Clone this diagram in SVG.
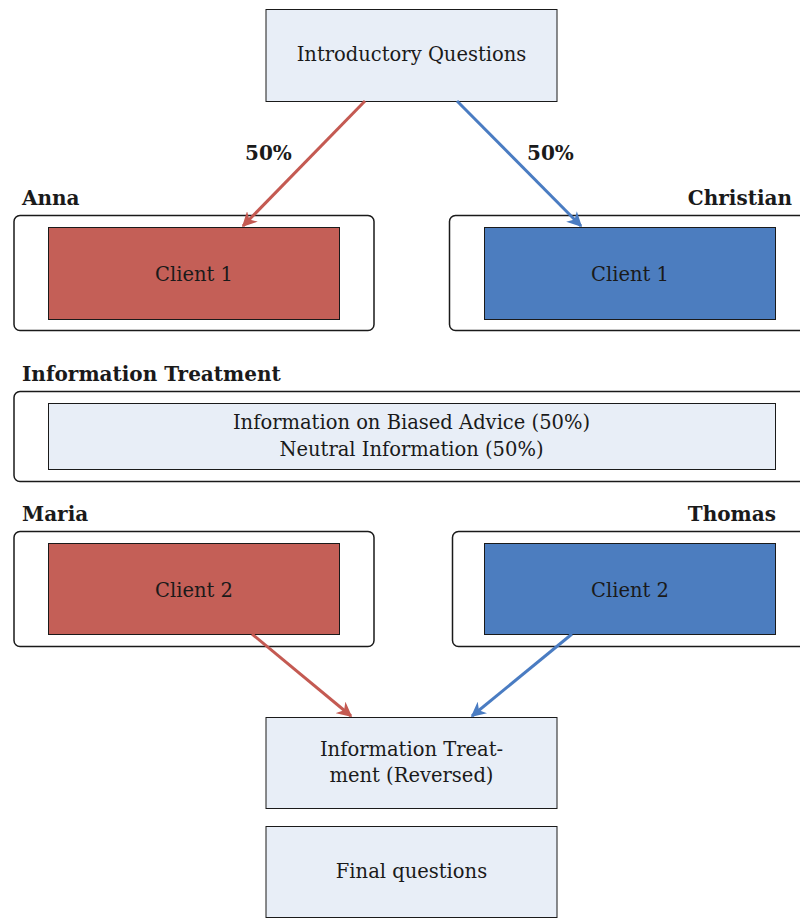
<svg xmlns="http://www.w3.org/2000/svg" width="800" height="918" viewBox="0 0 800 918" font-family="'DejaVu Serif', serif">
<style>
text{font-family:"DejaVu Serif",serif;font-size:19.5px;fill:#1a1a1a;text-anchor:middle;dominant-baseline:central}
.lbl{font-weight:bold;font-size:20px;text-anchor:start}
.lblr{font-weight:bold;font-size:20px;text-anchor:end}
.box{fill:#e8eef7;stroke:#1a1a1a;stroke-width:1}
.outer{fill:#fff;stroke:#1a1a1a;stroke-width:1.5}
.red{fill:#c45f57;stroke:#1a1a1a;stroke-width:1}
.blue{fill:#4c7dbf;stroke:#1a1a1a;stroke-width:1}
.ar{stroke:#c45a52;stroke-width:3;fill:none}
.ab{stroke:#4a7cc2;stroke-width:3;fill:none}
</style>
<defs>
<marker id="mr" viewBox="0 0 10 10" refX="9" refY="5" markerWidth="5" markerHeight="5" orient="auto" markerUnits="strokeWidth"><path d="M0,0 L10,5 L0,10 L3,5 Z" fill="#c45a52"/></marker>
<marker id="mb" viewBox="0 0 10 10" refX="9" refY="5" markerWidth="5" markerHeight="5" orient="auto" markerUnits="strokeWidth"><path d="M0,0 L10,5 L0,10 L3,5 Z" fill="#4a7cc2"/></marker>
</defs>
<g id="intro"><rect class="box" x="266" y="9.5" width="291" height="92"/><text x="411.5" y="54">Introductory Questions</text></g>
<g id="anna"><text class="lbl" x="22" y="198">Anna</text><rect class="outer" x="14" y="215.5" width="360" height="115" rx="6"/><rect class="red" x="48.5" y="227.5" width="291" height="92"/><text x="194" y="274">Client 1</text></g>
<g id="christian"><text class="lblr" x="792" y="198">Christian</text><rect class="outer" x="449.5" y="215.5" width="360" height="115" rx="6"/><rect class="blue" x="484.5" y="227.5" width="291" height="92"/><text x="630" y="274">Client 1</text></g>
<g id="info"><text class="lbl" x="22" y="374">Information Treatment</text><rect class="outer" x="14" y="391.5" width="796" height="90" rx="6"/><rect class="box" x="48.5" y="403.5" width="727" height="66"/><text x="411.5" y="422">Information on Biased Advice (50%)</text><text x="411.5" y="449">Neutral Information (50%)</text></g>
<g id="maria"><text class="lbl" x="22" y="514">Maria</text><rect class="outer" x="14" y="531.5" width="360" height="115" rx="6"/><rect class="red" x="48.5" y="543.5" width="291" height="91"/><text x="194" y="590">Client 2</text></g>
<g id="thomas"><text class="lblr" x="776" y="514">Thomas</text><rect class="outer" x="452.5" y="531.5" width="360" height="115" rx="6"/><rect class="blue" x="484.5" y="543.5" width="291" height="91"/><text x="630" y="590">Client 2</text></g>
<g id="reversed"><rect class="box" x="266" y="717.5" width="291" height="91"/><text x="411.5" y="749">Information Treat-</text><text x="411.5" y="775">ment (Reversed)</text></g>
<g id="final"><rect class="box" x="266" y="826.5" width="291" height="91"/><text x="411.5" y="871">Final questions</text></g>
<g id="connectors">
<path class="ar" d="M365,101 L243,226" marker-end="url(#mr)"/>
<path class="ab" d="M457,101 L581,226" marker-end="url(#mb)"/>
<path class="ar" d="M252,634 L351,716" marker-end="url(#mr)"/>
<path class="ab" d="M572,634 L472,716" marker-end="url(#mb)"/>
<text class="lbl" x="245" y="153">50%</text>
<text class="lbl" x="527" y="153">50%</text>
</g>
</svg>
